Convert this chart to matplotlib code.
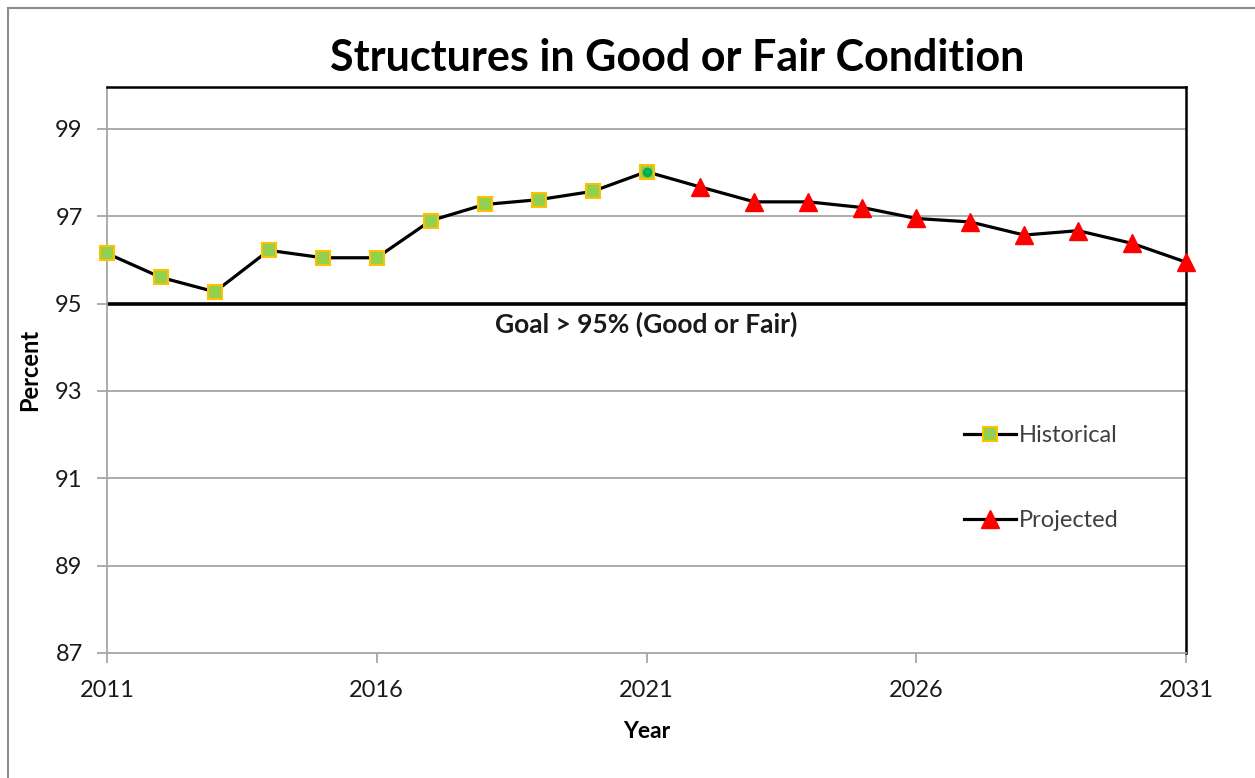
import matplotlib
matplotlib.use("Agg")
import matplotlib.pyplot as plt
from matplotlib.patches import Rectangle
from matplotlib.lines import Line2D

plt.rcParams['font.family'] = ['Lato', 'DejaVu Sans']

# data
hist_years = [2011, 2012, 2013, 2014, 2015, 2016, 2017, 2018, 2019, 2020, 2021]
hist_pct = [96.15, 95.6, 95.27, 96.22, 96.05, 96.05, 96.9, 97.27, 97.38, 97.57, 98.02]
proj_years = [2021, 2022, 2023, 2024, 2025, 2026, 2027, 2028, 2029, 2030, 2031]
proj_pct = [98.02, 97.67, 97.33, 97.33, 97.2, 96.95, 96.87, 96.57, 96.67, 96.38, 95.95]
goal = 95
x_ticks = [2011, 2016, 2021, 2026, 2031]
y_ticks = [87, 89, 91, 93, 95, 97, 99]

LW = 2.3
sq = dict(marker='s', markersize=10.5, markerfacecolor='#92d050',
          markeredgecolor='#ffc000', markeredgewidth=1.5)
tri = dict(marker='^', markersize=13, markerfacecolor='#ff0000', markeredgecolor='#ff0000')

fig = plt.figure(figsize=(12.55, 7.78), dpi=100)
ax = fig.add_axes([107/1255, 1-653/778, (1186-107)/1255, (653-87)/778])

# outer chart border (only top/left visible in the crop)
fig.patches.append(Rectangle((8/1255, -0.1), 1.2, 1-8/778+0.1, transform=fig.transFigure,
                             fill=False, edgecolor='#8c8c8c', linewidth=1.5))

ax.set_xlim(2011, 2031)
ax.set_ylim(87, 99.96)

for y in y_ticks[1:]:
    if y != goal:
        ax.axhline(y, color='#a6a6a6', linewidth=1.3, zorder=1)
ax.axhline(goal, color='black', linewidth=2.6, zorder=2)

# first projected point is shared with the last historical one, so no triangle there
ax.plot(proj_years, proj_pct, color='black', linewidth=LW, zorder=3, clip_on=False,
        markevery=list(range(1, len(proj_years))), **tri)
ax.plot(hist_years, hist_pct, color='black', linewidth=LW, zorder=4, clip_on=False, **sq)
ax.plot(hist_years[-1:], hist_pct[-1:], linestyle='none', marker='o', markersize=6,
        color='#00b050', zorder=5)

ax.text(2021, 94.52, 'Goal > 95% (Good or Fair)', ha='center', va='center',
        fontsize=19, fontweight='bold', color='#1a1a1a')

ax.set_xticks(x_ticks)
ax.set_yticks(y_ticks)
ax.tick_params(axis='both', direction='out', length=7.5, width=1.3, color='#a6a6a6',
               labelsize=17, labelcolor='#1a1a1a')
ax.tick_params(axis='x', pad=12)
ax.tick_params(axis='y', pad=10)

ax.spines['left'].set_color('#a6a6a6')
ax.spines['bottom'].set_color('#a6a6a6')
ax.spines['left'].set_linewidth(1.3)
ax.spines['bottom'].set_linewidth(1.3)
ax.spines['top'].set_color('black')
ax.spines['right'].set_color('black')
ax.spines['top'].set_linewidth(1.8)
ax.spines['right'].set_linewidth(1.8)

ax.set_xlabel('Year', fontsize=16.5, fontweight='bold', labelpad=14)
ax.set_ylabel('Percent', fontsize=17, fontweight='bold', labelpad=10)
fig.text(677/1255, 1-58/778, 'Structures in Good or Fair Condition', ha='center', va='center',
         fontsize=31, fontweight='bold')

h1 = Line2D([], [], color='black', linewidth=LW, **sq)
h2 = Line2D([], [], color='black', linewidth=LW, **tri)
leg = ax.legend([h1, h2], ['Historical', 'Projected'], loc='center left',
                bbox_to_anchor=(0.775, 0.309), frameon=False, fontsize=17,
                labelspacing=2.73, handlelength=2.2, handletextpad=0.1)
for t in leg.get_texts():
    t.set_color('#404040')

fig.savefig('out.png', dpi=100, facecolor='white')
